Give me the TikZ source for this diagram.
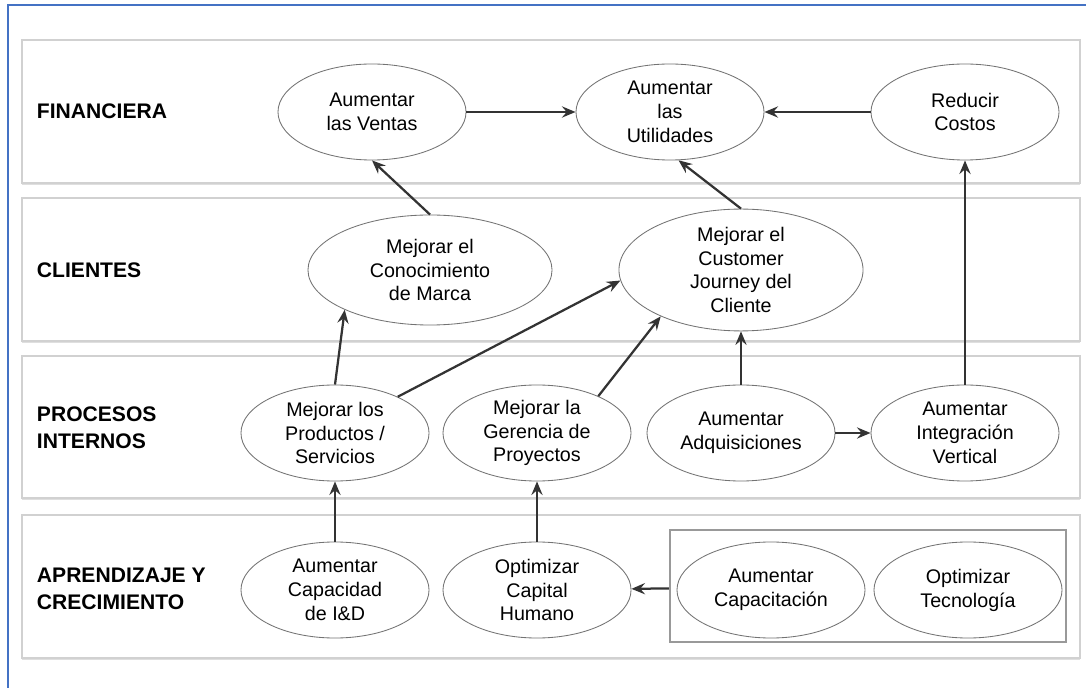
\documentclass[tikz,border=0pt]{standalone}
\usepackage{fontspec}
\setmainfont{Liberation Sans}
\usetikzlibrary{arrows.meta,shapes.geometric,shadows}
\definecolor{frameblue}{RGB}{68,114,196}

\begin{document}
\begin{tikzpicture}[
      x=0.025cm, y=-0.025cm,
      font=\fontsize{14}{17}\selectfont,
      band/.style={draw=black!18, fill=white, line width=0.8pt,
                   drop shadow={shadow xshift=0pt, shadow yshift=-1.6pt, opacity=0.25}},
      lane/.style={anchor=west, align=left, font=\fontsize{15}{19}\selectfont\bfseries},
      goal/.style={ellipse, draw=black!55, line width=0.6pt, fill=white, align=center,
                   inner sep=0pt, minimum width=4.7cm, minimum height=2.4cm},
      wide/.style={goal, minimum width=6.1cm, minimum height=2.75cm},
      kit/.style={draw=black!40, line width=1.6pt, fill=white, inner sep=0pt,
                  minimum width=9.9cm, minimum height=2.8cm},
      link/.style={-{Stealth[length=3.4mm, width=2.8mm, inset=1.2mm]}, line width=1.6pt, draw=black!80}
    ]
    \useasboundingbox (0,0) rectangle (1086,688);
    % --- Frame and perspective bands ----------------------------------------
    \draw[frameblue, line width=1.4pt] (8,688) -- (8,5) -- (1086,5);

    \draw[band] (22,40)  rectangle (1080,183);
    \draw[band] (22,198) rectangle (1080,341);
    \draw[band] (22,356) rectangle (1080,498);
    \draw[band] (22,515) rectangle (1080,658);

    \node[lane] (lfin) at (32,111) {FINANCIERA};
    \node[lane] (lcli) at (32,270) {CLIENTES};
    \node[lane] (lpro) at (32,428) {PROCESOS\\INTERNOS};
    \node[lane] (lapr) at (32,589) {APRENDIZAJE Y\\CRECIMIENTO};

    % --- Objectives ---------------------------------------------------------
    \node[goal] (ventas) at (372,112) {Aumentar\\las Ventas};
    \node[goal] (util)   at (670,112) {Aumentar\\las\\Utilidades};
    \node[goal] (costos) at (965,112) {Reducir\\Costos};

    \node[wide] (marca)  at (430,270) {Mejorar el\\Conocimiento\\de Marca};
    \node[wide] (cust)   at (741,270) {Mejorar el\\Customer\\Journey del\\Cliente};

    \node[goal] (prod)   at (335,433) {Mejorar los\\Productos /\\Servicios};
    \node[goal] (ger)    at (537,433) {Mejorar la\\Gerencia de\\Proyectos};
    \node[goal] (adq)    at (741,433) {Aumentar\\Adquisiciones};
    \node[goal] (integ)  at (965,433) {Aumentar\\Integración\\Vertical};

    \node[kit]  (grupo)  at (868,586) {};
    \node[goal] (idd)    at (335,590) {Aumentar\\Capacidad\\de I\&D};
    \node[goal] (capital) at (537,590) {Optimizar\\Capital\\Humano};
    \node[goal] (capac)  at (771,590) {Aumentar\\Capacitación};
    \node[goal] (tecno)  at (968,590) {Optimizar\\Tecnología};

    % --- Cause and effect links ---------------------------------------------
    \draw[link] (ventas) -- (util);
    \draw[link] (costos) -- (util);
    \draw[link] (marca.north) -- (ventas.south);
    \draw[link] (cust.north) -- (util.-80);
    \draw[link] (integ.north) -- (costos.south);

    \draw[link] (prod.north) -- (marca.-155);
    \draw[link] (prod.30) -- (cust.185);
    \draw[link] (ger.31) -- (cust.-150);
    \draw[link] (adq.north) -- (cust.south);
    \draw[link] (adq) -- (integ);

    \draw[link] (idd) -- (prod);
    \draw[link] (capital) -- (ger);
    \draw[link] (grupo) -- (capital);
  \end{tikzpicture}
\end{document}
